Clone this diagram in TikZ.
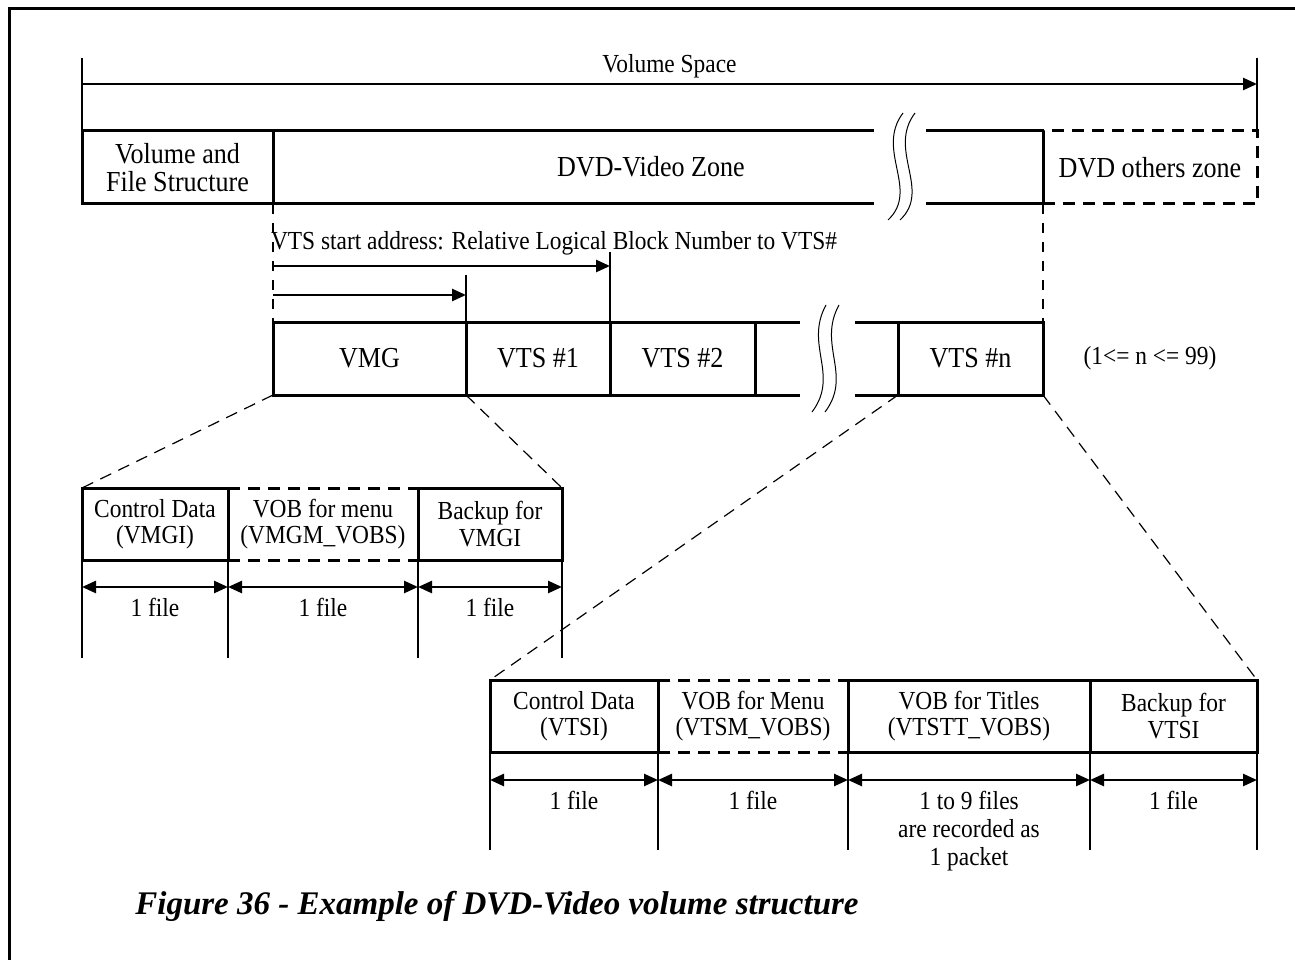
\documentclass[tikz,border=0pt]{standalone}
\usepackage{fontspec}
\setmainfont[FakeStretch=0.9]{Liberation Serif}
\newfontfamily\captionfont{Liberation Serif}
\usetikzlibrary{arrows.meta}
\tikzset{
  box/.style={draw, line width=3pt, inner sep=0pt, outer sep=0pt, minimum height=73, align=center, font=\fontsize{29}{28}\selectfont},
  subbox/.style={draw, line width=3pt, inner sep=0pt, outer sep=0pt, minimum height=72, align=center, font=\fontsize{26}{26.5}\selectfont},
  dashbox/.style={dash pattern=on 12pt off 8pt},
  lbl/.style={inner sep=0pt, outer sep=0pt, align=center, font=\fontsize{26}{28}\selectfont},
  zoomline/.style={line width=1.2pt, dash pattern=on 12pt off 8pt},
  marker/.style={line width=2pt, dash pattern=on 10pt off 9pt},
  tip/.style={-{Triangle[length=14pt,width=12pt]}, line width=2.5pt},
  span/.style={{Triangle[length=14pt,width=12pt]}-{Triangle[length=14pt,width=12pt]}, line width=2.5pt},
}
\begin{document}
\begin{tikzpicture}[x=1pt,y=-1pt]
  \useasboundingbox (0,0) rectangle (1295,960);
  \draw[line width=3pt] (9,960) -- (9,9) -- (1295,9);
  % Volume space
  \node[box, minimum width=191] (vfs) at (177.5,167.5) {Volume and\\File Structure};
  \node[box, dashbox, minimum width=214] (others) at (1150,167.5) {DVD others zone};
  \draw[line width=3pt] (others.north west) -- (others.south west);
  \node[lbl, font=\fontsize{29}{28}\selectfont] (zone) at (651,167) {DVD-Video Zone};
  \draw[line width=3pt] (vfs.north east) -- (874,131) (926,131) -- (others.north west);
  \draw[line width=3pt] (vfs.south east) -- (874,204) (926,204) -- (others.south west);
  \foreach \dx in {0,12}
    \draw[line width=1pt] (903+\dx,113) .. controls (875+\dx,150) and (920+\dx,190) .. (888+\dx,220);
  \coordinate (vsL) at (82,58);
  \coordinate (vsR) at (1257,58);
  \draw[line width=1.5pt] (vsL) -- (vfs.north west);
  \draw[line width=1.5pt] (vsR) -- (others.north east);
  \draw[tip] ([yshift=-26pt]vsL) -- ([yshift=-26pt]vsR)
    node[midway, above=6pt, lbl] (vs) {Volume Space};
  % VMG and VTS row
  \node[box, minimum width=193] (vmg) at (369.5,358.5) {VMG};
  \node[box, minimum width=144] (vts1) at (538,358.5) {VTS \#1};
  \node[box, minimum width=145] (vts2) at (682.5,358.5) {VTS \#2};
  \node[box, minimum width=145] (vtsn) at (970.5,358.5) {VTS \#n};
  \draw[line width=3pt] (vts2.north east) -- (800,322) (855,322) -- (vtsn.north west);
  \draw[line width=3pt] (vts2.south east) -- (800,395) (855,395) -- (vtsn.south west);
  \foreach \dx in {0,13}
    \draw[line width=1pt] (826+\dx,305) .. controls (804+\dx,345) and (840+\dx,375) .. (812+\dx,412);
  \node[lbl] (range) at (1150,358) {(1<= n <= 99)};
  \draw[marker] (vfs.south east) -- (vmg.north west);
  \draw[marker] (others.south west) -- (vtsn.north east);
  % VTS start address
  \node[lbl, anchor=west] (addr) at (271,243) {VTS start address: Relative Logical Block Number to VTS\#};
  \draw[line width=1.5pt] (vts1.north east) -- ++(0,-70);
  \draw[line width=1.5pt] (vts1.north west) -- ++(0,-47);
  \draw[tip] (273,266) -- (vts1.north east |- 0,266);
  \draw[tip] (273,295) -- (vts1.north west |- 0,295);
  % VMG contents
  \node[subbox, minimum width=146] (vmgi) at (155,524) {Control Data\\(VMGI)};
  \node[subbox, dashbox, minimum width=190] (vmgm) at (323,524) {VOB for menu\\(VMGM\_VOBS)};
  \node[subbox, minimum width=144] (vmgbk) at (490,524) {Backup for\\VMGI};
  \draw[line width=3pt] (vmgi.north east) -- (vmgi.south east) (vmgbk.north west) -- (vmgbk.south west);
  \foreach \n in {vmgi.south west, vmgi.south east, vmgbk.south west, vmgbk.south east}
    \draw[line width=2pt] (\n) -- ++(0,98);
  \draw[span] ([yshift=-27pt]vmgi.south west) -- ([yshift=-27pt]vmgi.south east)
    node[midway, below=11pt, lbl] (f1) {1 file};
  \draw[span] ([yshift=-27pt]vmgm.south west) -- ([yshift=-27pt]vmgm.south east)
    node[midway, below=11pt, lbl] (f2) {1 file};
  \draw[span] ([yshift=-27pt]vmgbk.south west) -- ([yshift=-27pt]vmgbk.south east)
    node[midway, below=11pt, lbl] (f3) {1 file};
  \draw[zoomline] (vmg.south west) -- (vmgi.north west);
  \draw[zoomline] (vmg.south east) -- (vmgbk.north east);
  % VTS contents
  \node[subbox, minimum width=168] (vtsi) at (574,716) {Control Data\\(VTSI)};
  \node[subbox, dashbox, minimum width=190] (vtsm) at (753,716) {VOB for Menu\\(VTSM\_VOBS)};
  \node[subbox, minimum width=242] (vtstt) at (969,716) {VOB for Titles\\(VTSTT\_VOBS)};
  \node[subbox, minimum width=167] (vtsbk) at (1173.5,716) {Backup for\\VTSI};
  \draw[line width=3pt] (vtsi.north east) -- (vtsi.south east) (vtstt.north west) -- (vtstt.south west);
  \foreach \n in {vtsi.south west, vtsi.south east, vtstt.south west, vtstt.south east, vtsbk.south east}
    \draw[line width=2pt] (\n) -- ++(0,98);
  \draw[span] ([yshift=-28pt]vtsi.south west) -- ([yshift=-28pt]vtsi.south east)
    node[midway, below=11pt, lbl] (g1) {1 file};
  \draw[span] ([yshift=-28pt]vtsm.south west) -- ([yshift=-28pt]vtsm.south east)
    node[midway, below=11pt, lbl] (g2) {1 file};
  \draw[span] ([yshift=-28pt]vtstt.south west) -- ([yshift=-28pt]vtstt.south east)
    node[midway, below=11pt, lbl] (g3) {1 to 9 files\\are recorded as\\1 packet};
  \draw[span] ([yshift=-28pt]vtsbk.south west) -- ([yshift=-28pt]vtsbk.south east)
    node[midway, below=11pt, lbl] (g4) {1 file};
  \draw[zoomline] (vtsn.south west) -- (vtsi.north west);
  \draw[zoomline] (vtsn.south east) -- (vtsbk.north east);
  % Caption
  \node[inner sep=0pt, font=\captionfont\fontsize{33}{36}\selectfont\bfseries\itshape] (caption) at (497,906)
    {Figure 36 - Example of DVD-Video volume structure};
\end{tikzpicture}
\end{document}
